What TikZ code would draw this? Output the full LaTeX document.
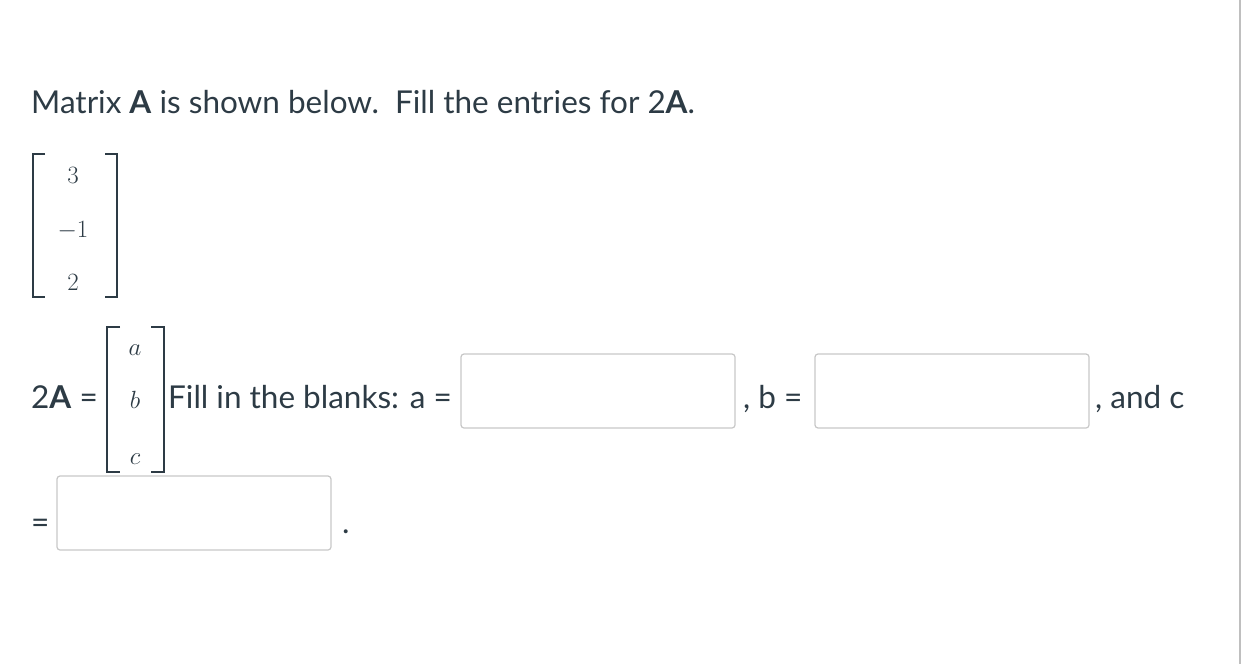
\documentclass[tikz,border=0pt]{standalone}
\usepackage{fontspec}
\setmainfont{Lato}
\definecolor{ink}{HTML}{2D3B45}
\begin{document}
\begin{tikzpicture}[x=1pt,y=-1pt,
  txt/.style={anchor=base west,inner sep=0pt,font=\fontsize{31.5}{36}\selectfont,text=ink},
  mtx/.style={anchor=base,inner sep=0pt,font=\fontsize{33}{38}\selectfont,text=ink},
  brk/.style={line width=2.2pt,draw=ink},
  inbox/.style={draw=black!22,line width=1.2pt,rounded corners=3pt}]
\useasboundingbox (0,0) rectangle (1246,664);
\draw[black!25,line width=1.5pt] (1240,0) -- (1240,664);
\node[txt] (title) at (31,113) {Matrix \textbf{A} is shown below.\ \ Fill the entries for 2\textbf{A}.};
% matrix A
\draw[brk] (45,154) -- (33,154) -- (33,297) -- (45,297);
\draw[brk] (105,154) -- (117,154) -- (117,297) -- (105,297);
\node[mtx] (m1) at (73,183) {$3$};
\node[mtx] (m2) at (73,237) {$-1$};
\node[mtx] (m3) at (73,290) {$2$};
% matrix 2A
\draw[brk] (120,327) -- (107,327) -- (107,472) -- (120,472);
\draw[brk] (151,327) -- (164,327) -- (164,472) -- (151,472);
\node[mtx] (ea) at (135,355) {$a$};
\node[mtx] (eb) at (135,408) {$b$};
\node[mtx] (ec) at (135,464) {$c$};
\node[txt] (lhs) at (31,408) {2\textbf{A} =};
\node[txt] (fill) at (168,408) {Fill in the blanks: a =};
\draw[inbox] (461,354) rectangle (735,428);
\node (boxa) at (598,391) {};
\node[txt] (bl) at (743,408) {, b =};
\draw[inbox] (815,354) rectangle (1089,428);
\node (boxb) at (952,391) {};
\node[txt] (cl) at (1095,408) {, and c};
\node[txt] (eq) at (31,533) {=};
\draw[inbox] (57,476) rectangle (331,550);
\node (boxc) at (194,513) {};
\node[txt] (dot) at (342,533) {.};
\end{tikzpicture}
\end{document}
